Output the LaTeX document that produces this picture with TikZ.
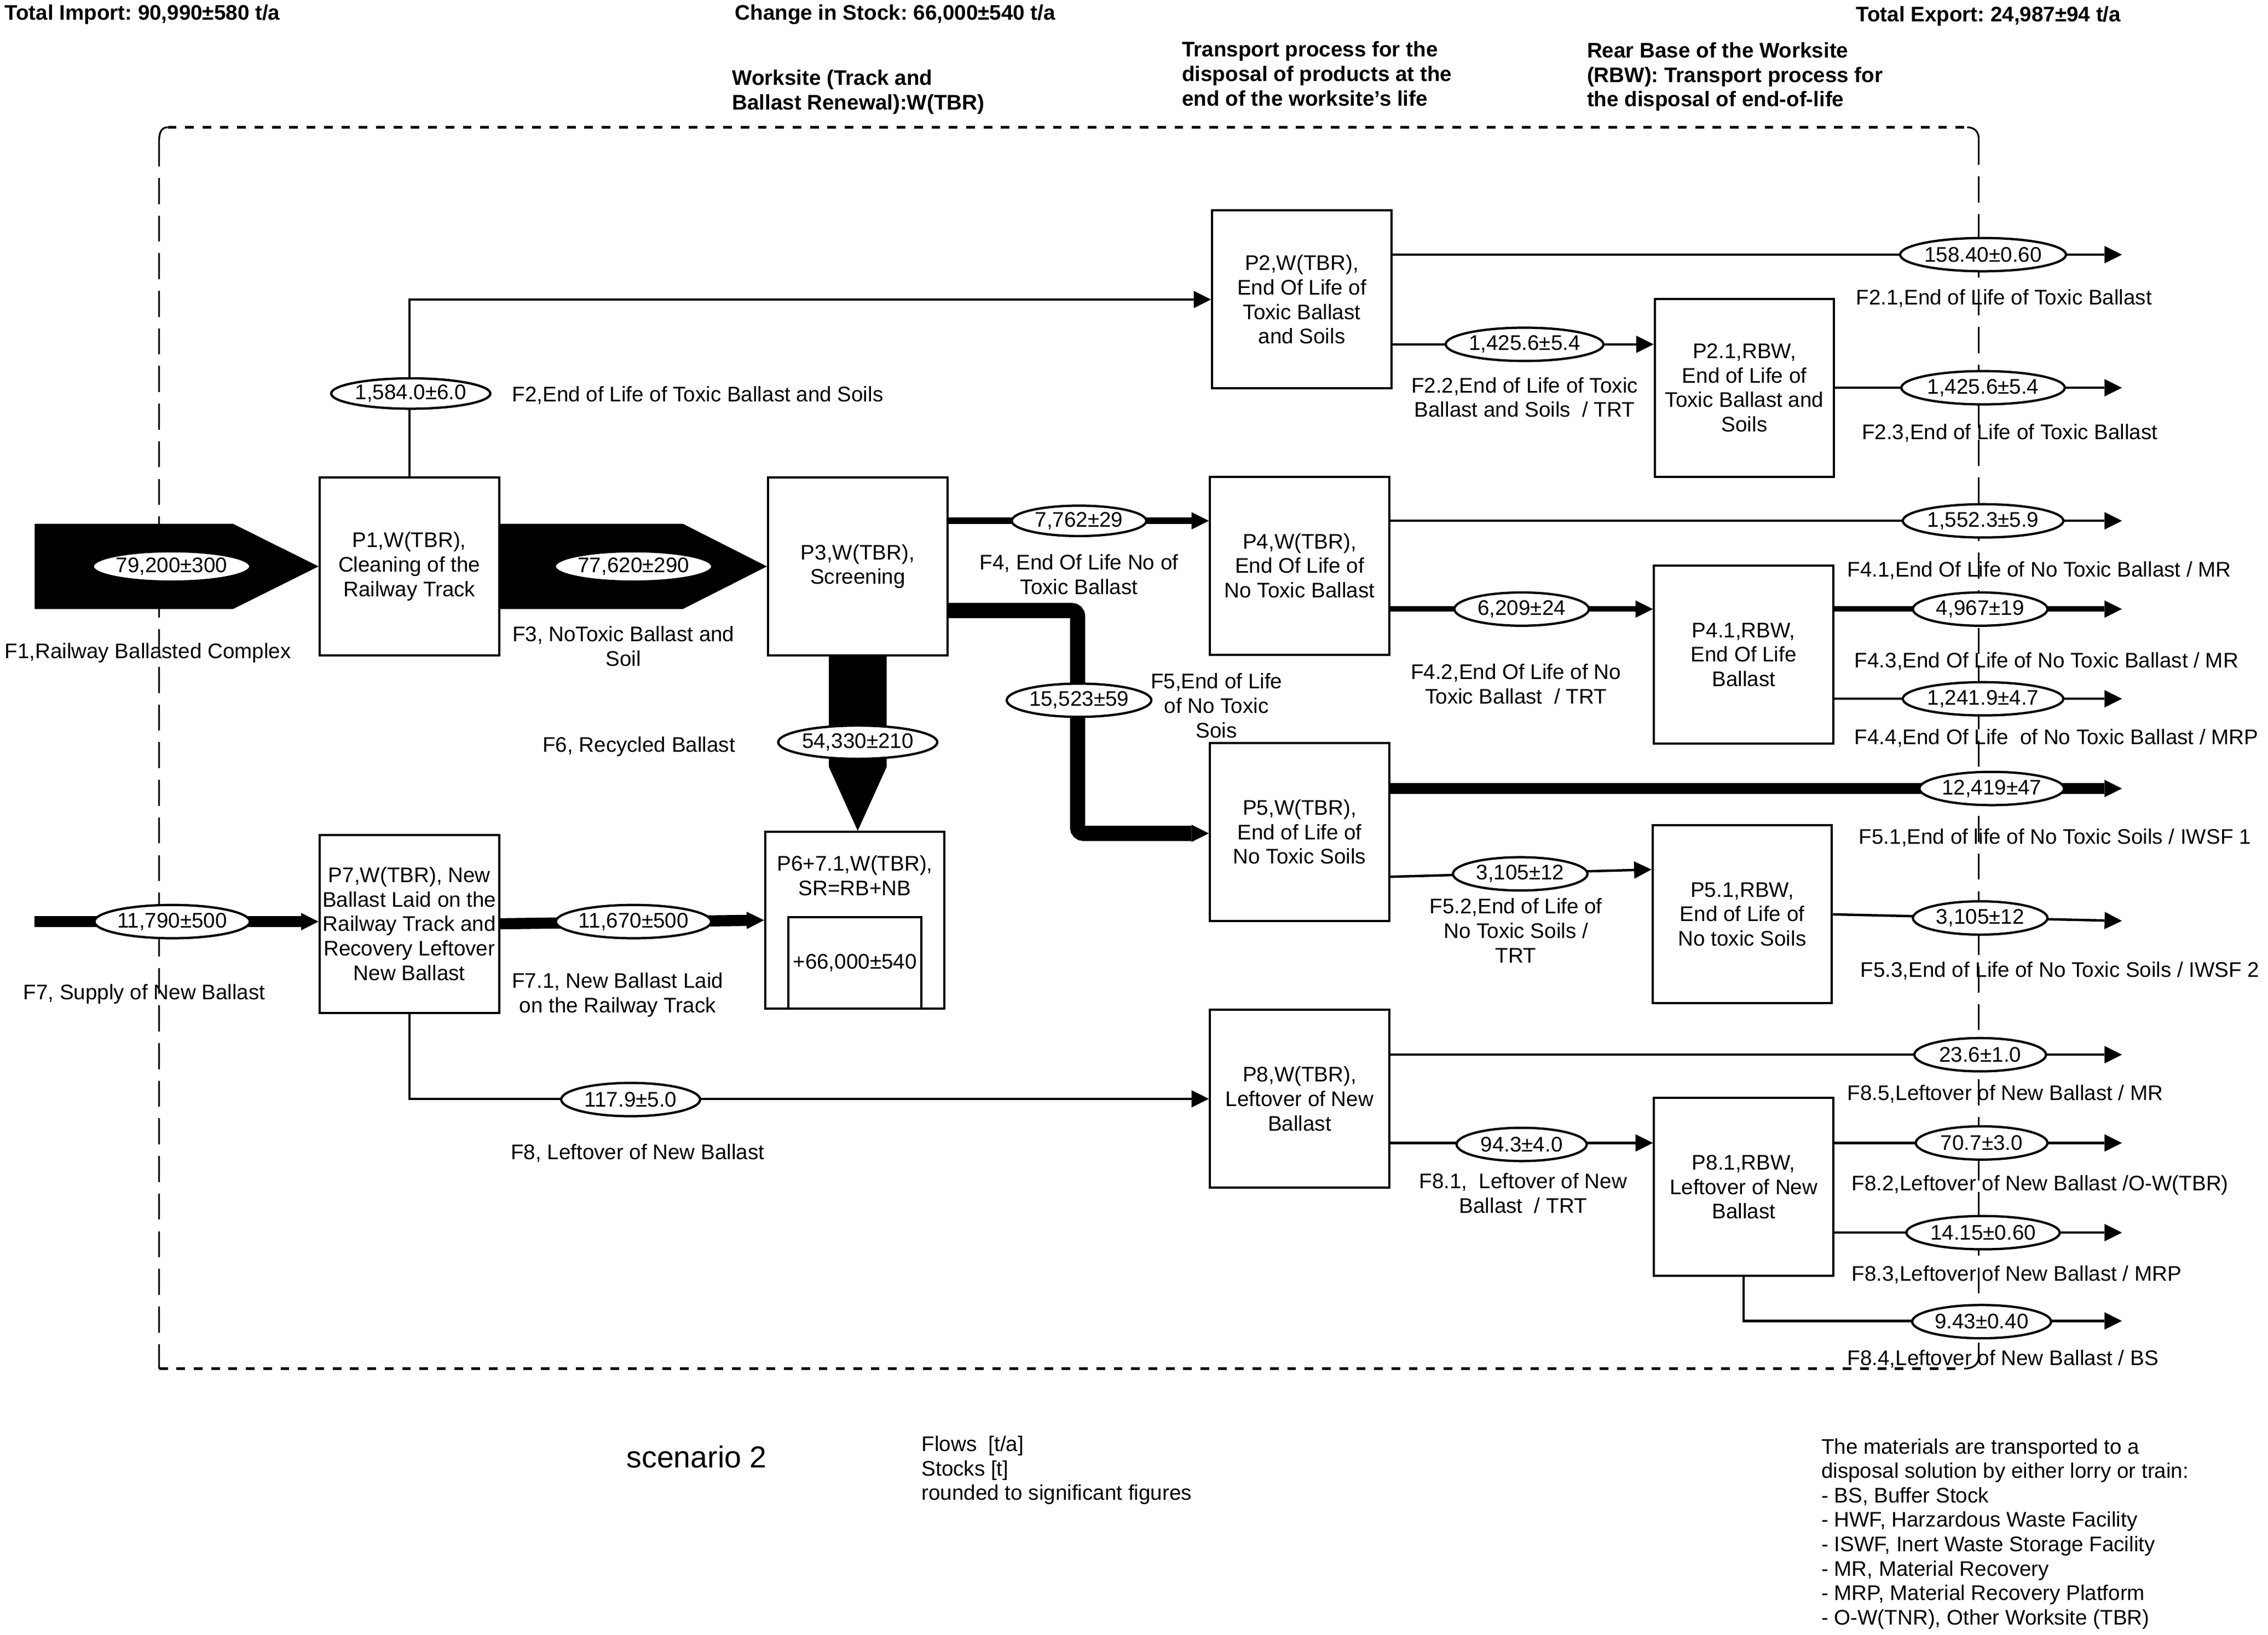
\documentclass[tikz,border=0pt]{standalone}
\usepackage{fontspec}
\setmainfont{Liberation Sans}
\usetikzlibrary{arrows.meta,shapes.geometric,calc}
\newcommand\myfs{\fontsize{14.6}{16.9}\selectfont}
\newcommand\mybigfs{\fontsize{21}{24}\selectfont}
\frenchspacing
\begin{document}
\begin{tikzpicture}[x=1pt,y=-1pt,
  proc/.style={draw, line width=1.5pt, fill=white, minimum width=124pt, minimum height=123pt, inner sep=0pt, align=center, font=\myfs},
  val/.style={draw, ellipse, line width=1.6pt, fill=white, inner sep=0pt, minimum height=23pt, font=\myfs},
  lbl/.style={inner sep=0pt, font=\myfs, align=center, yshift=-1.2pt},
  lblw/.style={inner sep=0pt, font=\myfs, align=left, anchor=west, yshift=-1.2pt},
  head/.style={inner sep=0pt, font=\myfs\bfseries, align=left, anchor=west, yshift=-1pt},
  flow/.style={line width=1.7pt, -{Triangle[length=12pt,width=12pt,line width=0pt]}},
  frameh/.style={line width=1.8pt, dash pattern=on 6pt off 6pt},
  framev/.style={line width=1.2pt, dash pattern=on 18pt off 8pt}
]
\useasboundingbox (0,0) rectangle (1568,1130.1);

% headers
\node[head] (hImp) at (3,9) {Total Import: 90,990±580 t/a};
\node[head] (hStk) at (508,9) {Change in Stock: 66,000±540 t/a};
\node[head] (hExp) at (1283,10) {Total Export: 24,987±94 t/a};
\node[head] (hWS) at (506,62.5) {Worksite (Track and\\Ballast Renewal):W(TBR)};
\node[head] (hTP) at (817,50) {Transport process for the\\disposal of products at the\\end of the worksite\char"27 s life};
\node[head] (hRB) at (1097,52) {Rear Base of the Worksite\\(RBW): Transport process for\\the disposal of end-of-life};

% system boundary
\draw[frameh] (116,88) -- (1360,88);
\draw[frameh] (110,946) -- (1358,946);
\draw[framev] (110,97) -- (110,946);
\draw[framev] (1368,96) -- (1368,940);
\draw[line width=1.2pt] (110,97) .. controls (110,91) and (112,88) .. (116,88);
\draw[line width=1.2pt] (1360,88) .. controls (1365,88) and (1368,91) .. (1368,96);
\draw[line width=1.2pt] (1358,946) .. controls (1364,946) and (1368,943) .. (1368,938);

% processes
\node[proc] (P1) at (283,391.5) {P1,W(TBR),\\Cleaning of the\\Railway Track};
\node[proc] (P3) at (593,391.5) {P3,W(TBR),\\Screening};
\node[proc] (P2) at (900,207) {P2,W(TBR),\\End Of Life of\\Toxic Ballast\\and Soils};
\node[proc] (P21) at (1206,268) {P2.1,RBW,\\End of Life of\\Toxic Ballast and\\Soils};
\node[proc] (P4) at (898.5,391) {P4,W(TBR),\\End Of Life of\\No Toxic Ballast};
\node[proc] (P41) at (1205.5,452.5) {P4.1,RBW,\\End Of Life\\Ballast};
\node[proc] (P5) at (898.5,575) {P5,W(TBR),\\End of Life of\\No Toxic Soils};
\node[proc] (P51) at (1204.5,632) {P5.1,RBW,\\End of Life of\\No toxic Soils};
\node[proc, minimum height=122pt] (P6) at (591,636) {};
\node[lbl] (P6t) at (591,604) {P6+7.1,W(TBR),\\SR=RB+NB};
\node[draw, line width=1.5pt, minimum width=92pt, minimum height=63pt, inner sep=0pt, font=\myfs] (S6) at (591,665.5) {+66,000±540};
\node[proc] (P7) at (283,638.5) {P7,W(TBR), New\\Ballast Laid on the\\Railway Track and\\Recovery Leftover\\New Ballast};
\node[proc] (P8) at (898.5,759.5) {P8,W(TBR),\\Leftover of New\\Ballast};
\node[proc] (P81) at (1205.5,820.5) {P8.1,RBW,\\Leftover of New\\Ballast};

% broad flows
\coordinate (F1in) at (24,391.5);
\fill ($(F1in)+(0,-29.5)$) -- (161,362) -- (P1.west) -- (161,421) -- ($(F1in)+(0,29.5)$) -- cycle;
\fill ($(P1.east)+(0,-29.5)$) -- (472,362) -- (P3.west) -- (472,421) -- ($(P1.east)+(0,29.5)$) -- cycle;
\fill ($(P3.south)+(-20,0)$) -- ($(P3.south)+(20,0)$) -- (613,530) -- (P3.south |- P6.north) -- (573,530) -- cycle;

% connectors
\draw[flow] (P1.north) |- (P2.west);
\draw[flow] (P7.south) |- (P8.west);
\draw[flow, line width=4.5pt] (P3.east |- 0,360) -- (P4.west |- 0,360);
\draw[flow, line width=10.5pt, rounded corners=4pt] (P3.east |- 0,422) -- (745,422) -- (745,576) -- (P5.west |- 0,576);
\coordinate (F7in) at (24,637);
\draw[flow, line width=7.7pt] (F7in) -- (P7.west |- F7in);
\draw[flow, line width=7.7pt] (P7.east |- 0,638.5) -- (P6.west |- 0,636);

\coordinate (X21) at (1467,176);
\draw[flow] (P2.east |- X21) -- (X21);
\draw[flow] (P2.east |- 0,238) -- (P21.west |- 0,238);
\coordinate (X23) at (1467,268);
\draw[flow] (P21.east) -- (X23);
\coordinate (X41) at (1467,360);
\draw[flow] (P4.east |- X41) -- (X41);
\draw[flow, line width=3.8pt] (P4.east |- 0,421) -- (P41.west |- 0,421);
\coordinate (X43) at (1467,421);
\draw[flow, line width=3.8pt] (P41.east |- X43) -- (X43);
\coordinate (X44) at (1467,483);
\draw[flow] (P41.east |- X44) -- (X44);
\coordinate (X51) at (1467,545);
\draw[flow, line width=7.7pt] (P5.east |- X51) -- (X51);
\draw[flow] (P5.east |- 0,606) -- (P51.west |- 0,601);
\coordinate (X53) at (1467,636.5);
\draw[flow] (P51.east) -- (X53);
\coordinate (X85) at (1467,729);
\draw[flow] (P8.east |- X85) -- (X85);
\draw[flow] (P8.east |- 0,790) -- (P81.west |- 0,790);
\coordinate (X82) at (1467,790);
\draw[flow] (P81.east |- X82) -- (X82);
\coordinate (X83) at (1467,852);
\draw[flow] (P81.east |- X83) -- (X83);
\coordinate (X84) at (1467,913);
\draw[flow] (P81.south) |- (X84);

% values
\node[val, minimum width=107pt, minimum height=21pt] (e1) at (118.6,391.5) {79,200±300};
\node[val, minimum width=107pt, minimum height=21pt] (e3) at (438,391.5) {77,620±290};
\node[val, minimum width=110pt, minimum height=21pt] (e2) at (284,272) {1,584.0±6.0};
\node[val, minimum width=93pt, minimum height=21pt] (e4) at (746,360) {7,762±29};
\node[val, minimum width=100pt] (e5) at (746,484) {15,523±59};
\node[val, minimum width=110pt] (e6) at (593,513) {54,330±210};
\node[val, minimum width=106pt] (e7) at (119,637) {11,790±500};
\node[val, minimum width=105pt] (e71) at (438,637) {11,670±500};
\node[val, minimum width=96pt] (e8) at (436,760) {117.9±5.0};
\node[val, minimum width=114pt] (e21) at (1371,176) {158.40±0.60};
\node[val, minimum width=109pt] (e22) at (1054,238) {1,425.6±5.4};
\node[val, minimum width=113pt] (e23) at (1371,268) {1,425.6±5.4};
\node[val, minimum width=111pt] (e41) at (1371,360) {1,552.3±5.9};
\node[val, minimum width=93pt] (e42) at (1052,421) {6,209±24};
\node[val, minimum width=93pt] (e43) at (1369,421) {4,967±19};
\node[val, minimum width=111pt] (e44) at (1371,483) {1,241.9±4.7};
\node[val, minimum width=100pt] (e51) at (1377,545) {12,419±47};
\node[val, minimum width=93pt] (e52) at (1051,604) {3,105±12};
\node[val, minimum width=93pt] (e53) at (1369,634.5) {3,105±12};
\node[val, minimum width=91pt] (e85) at (1369,729) {23.6±1.0};
\node[val, minimum width=90pt] (e81) at (1052,791) {94.3±4.0};
\node[val, minimum width=91pt] (e82) at (1370,790) {70.7±3.0};
\node[val, minimum width=106pt] (e83) at (1371,852) {14.15±0.60};
\node[val, minimum width=96pt] (e84) at (1370,913.5) {9.43±0.40};

% flow names
\node[lblw] (lF1) at (3,450) {F1,Railway Ballasted Complex};
\node[lbl] (lF3) at (431,445.5) {F3, NoToxic Ballast and\\Soil};
\node[lblw] (lF2) at (354,272) {F2,End of Life of Toxic Ballast and Soils};
\node[lbl] (lF4) at (746,396) {F4, End Of Life No of\\Toxic Ballast};
\node[lbl] (lF5) at (841,486.5) {F5,End of Life\\of No Toxic\\Sois};
\node[lblw] (lF6) at (375,515) {F6, Recycled Ballast};
\node[lblw] (lF7) at (16,686) {F7, Supply of New Ballast};
\node[lbl] (lF71) at (427,686.5) {F7.1, New Ballast Laid\\on the Railway Track};
\node[lblw] (lF8) at (353,796) {F8, Leftover of New Ballast};
\node[lblw] (lF21) at (1283,205) {F2.1,End of Life of Toxic Ballast};
\node[lbl] (lF22) at (1054,273.5) {F2.2,End of Life of Toxic\\Ballast and Soils~ / TRT};
\node[lblw] (lF23) at (1287,298) {F2.3,End of Life of Toxic Ballast};
\node[lblw] (lF41) at (1277,393) {F4.1,End Of Life of No Toxic Ballast / MR};
\node[lbl] (lF42) at (1048,471.5) {F4.2,End Of Life of No\\Toxic Ballast~ / TRT};
\node[lblw] (lF43) at (1282,456) {F4.3,End Of Life of No Toxic Ballast / MR};
\node[lblw] (lF44) at (1282,509) {F4.4,End Of Life~ of No Toxic Ballast / MRP};
\node[lblw] (lF51) at (1285,578) {F5.1,End of life of No Toxic Soils / IWSF 1};
\node[lbl] (lF52) at (1048,642) {F5.2,End of Life of\\No Toxic Soils /\\TRT};
\node[lblw] (lF53) at (1286,670) {F5.3,End of Life of No Toxic Soils / IWSF 2};
\node[lblw] (lF85) at (1277,755) {F8.5,Leftover of New Ballast / MR};
\node[lbl] (lF81) at (1053,823.5) {F8.1,~ Leftover of New\\Ballast~ / TRT};
\node[lblw] (lF82) at (1280,818) {F8.2,Leftover of New Ballast /O-W(TBR)};
\node[lblw] (lF83) at (1280,880) {F8.3,Leftover of New Ballast / MRP};
\node[lblw] (lF84) at (1277,938) {F8.4,Leftover of New Ballast / BS};

% footer
\node[inner sep=0pt, font=\mybigfs, anchor=west] (scen) at (433,1007) {scenario 2};
\node[lblw] (units) at (637,1015) {Flows~ [t/a]\\Stocks [t]\\rounded to significant figures};
\node[lblw] (legend) at (1259,1059) {The materials are transported to a\\disposal solution by either lorry or train:\\- BS, Buffer Stock\\- HWF, Harzardous Waste Facility\\- ISWF, Inert Waste Storage Facility\\- MR, Material Recovery\\- MRP, Material Recovery Platform\\- O-W(TNR), Other Worksite (TBR)};
\end{tikzpicture}
\end{document}
